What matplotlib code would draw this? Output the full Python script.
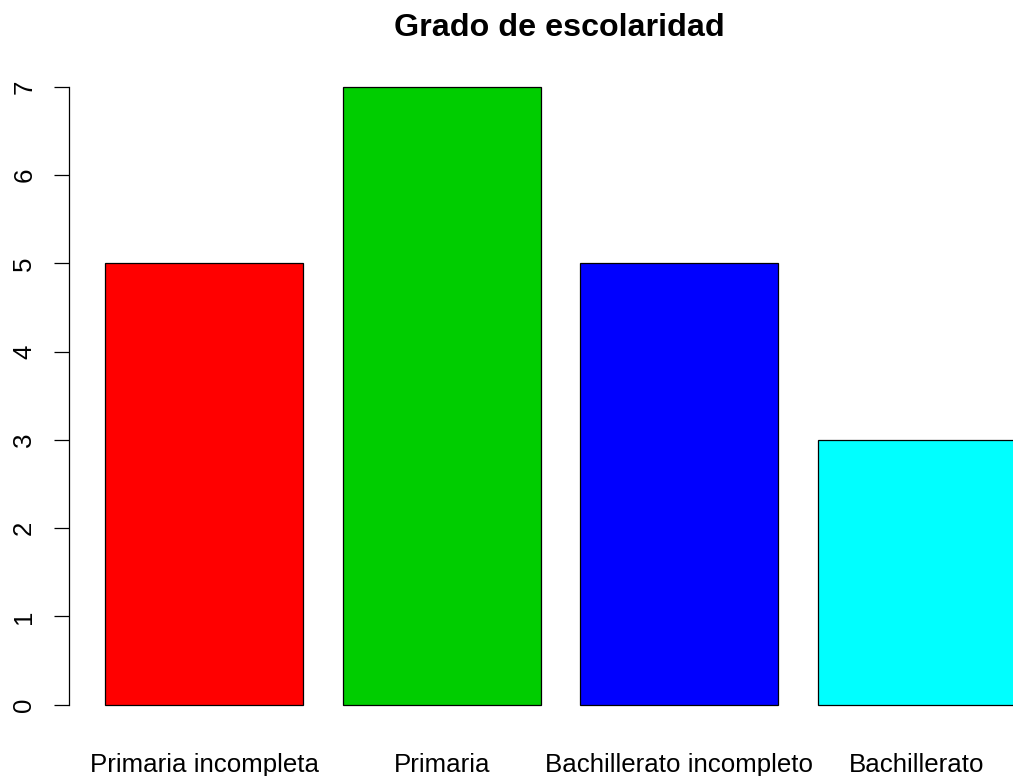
import numpy as np
import matplotlib
matplotlib.use("Agg")
import matplotlib.pyplot as plt

plt.rcParams['font.family'] = ['Liberation Sans', 'DejaVu Sans']

# data
categorias = ["Primaria incompleta", "Primaria", "Bachillerato incompleto", "Bachillerato"]
frecuencias = [5, 7, 5, 3]
colores = ["#FF0000", "#00CD00", "#0000FF", "#00FFFF"]

# R barplot style positions (width 1, space 0.2)
ancho = 1.0
espacio = 0.2
izq = np.array([espacio + i * (ancho + espacio) for i in range(len(categorias))])
centros = izq + ancho / 2

fig = plt.figure(figsize=(10.13, 7.76), dpi=100)
# axes spills past the right edge, like the cropped reference
ax = fig.add_axes([68.6 / 1013, (776 - 729.4) / 776, 984.0 / 1013, 667.4 / 776])

ax.bar(izq, frecuencias, width=ancho, align='edge', color=colores,
       edgecolor='black', linewidth=0.9)

ax.set_xlim(0.016, 4.984)
ax.set_ylim(-0.28, 7.28)

for s in ['top', 'right', 'bottom']:
    ax.spines[s].set_visible(False)
ax.spines['left'].set_bounds(0, 7)
ax.spines['left'].set_linewidth(0.9)

ax.set_yticks(range(0, 8))
ax.set_yticklabels([str(v) for v in range(0, 8)], rotation=90, va='center')
ax.tick_params(axis='y', length=10.8, width=0.9, pad=12.5, labelsize=18.6)

ax.set_xticks(centros)
ax.set_xticklabels(categorias)
ax.tick_params(axis='x', length=0, pad=17, labelsize=18.6)

fig.text(559 / 1013, 1 - 36 / 776, "Grado de escolaridad", ha='center',
         va='baseline', fontsize=23.2, fontweight='bold')

fig.savefig("out.png", dpi=100)
